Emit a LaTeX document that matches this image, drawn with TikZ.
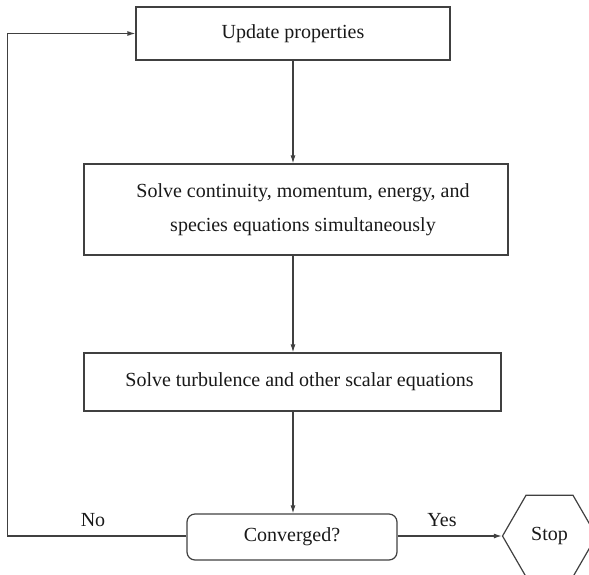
\documentclass[tikz,border=0pt]{standalone}
\usepackage{fontspec}
\setmainfont{Liberation Serif}
\usetikzlibrary{arrows.meta,shapes.geometric}
\begin{document}
\begin{tikzpicture}[x=1pt,y=-1pt,
  every node/.style={font=\fontsize{20}{34}\selectfont, text=black!90},
  stepbox/.style={draw=black!75, line width=1.2pt, rectangle, inner sep=0pt, align=center},
  decbox/.style={draw=black!75, line width=1.2pt, rectangle, rounded corners=8pt, inner sep=0pt},
  stopbox/.style={draw=black!75, line width=1.2pt, regular polygon, regular polygon sides=6, minimum size=94pt, inner sep=0pt},
  conn/.style={draw=black!75, line width=1.2pt, -{Latex[length=8pt,width=5pt]}},
  lbl/.style={inner sep=0pt}
]
\useasboundingbox (0,0) rectangle (589,574);
\node[stepbox, minimum width=314pt, minimum height=53pt] (b1) at (293,33.5) {Update properties};
\node[stepbox, minimum width=424pt, minimum height=91pt] (b2) at (296,209.5) {\hspace{14pt}Solve continuity, momentum, energy, and\\\hspace{14pt}species equations simultaneously};
\node[stepbox, minimum width=417pt, minimum height=58pt] (b3) at (292.5,382) {\hspace{14pt}Solve turbulence and other scalar equations};
\node[decbox, minimum width=210pt, minimum height=46pt] (conv) at (292,537) {Converged?};
\node[stopbox] (stop) at (549.5,536) {Stop};
\coordinate (lc) at (7.5,536);
\draw[conn] (b1.south) -- (b1.south |- b2.north);
\draw[conn] (b1.south |- b2.south) -- (b1.south |- b3.north);
\draw[conn] (b1.south |- b3.south) -- (b1.south |- conv.north);
\draw[conn] (conv.east |- stop.west) -- (stop.west);
\draw[conn] (conv.west |- lc) -- (lc) |- (b1.west);
\node[lbl] (no) at (93,520) {No};
\node[lbl] (yes) at (442,520) {Yes};
\end{tikzpicture}
\end{document}
